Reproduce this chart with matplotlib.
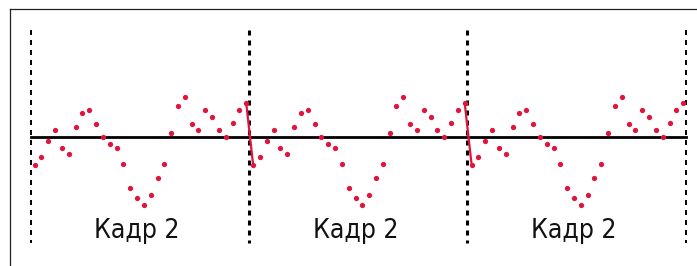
import numpy as np
import matplotlib
matplotlib.use("Agg")
import matplotlib.pyplot as plt
from matplotlib.lines import Line2D

# one frame of samples (amplitude), repeated in every frame
frame_values = [-0.69, -0.51, -0.09, 0.18, -0.27, -0.43, 0.24, 0.59,
                0.68, 0.33, -0.01, -0.18, -0.28, -0.68, -1.28, -1.53,
                -1.71, -1.44, -1.03, -0.68, 0.09, 0.77, 1.01, 0.33,
                0.17, 0.68, 0.50, 0.17, 0.01, 0.34, 0.68, 0.84]
n_frames = 3
frame_label = "Кадр 2"

plt.rcParams['lines.scale_dashes'] = False
plt.rcParams['font.family'] = ['DejaVu Sans']

W, H = 697, 266
fig = plt.figure(figsize=(W / 100, H / 100), dpi=100)
ax = fig.add_axes([0, 0, 1, 1])
ax.set_axis_off()

n = len(frame_values)
px = 6.828  # pixels per sample
x0 = 30.5   # pixel position of first frame boundary
ax.set_xlim(-x0 / px, (W - x0) / px)
ax.set_ylim(-(H - 137) / 40, 137 / 40)

red = '#e0143c'
for k in range(n_frames):
    xs = k * n + np.arange(n) + 0.6
    ax.plot(xs, frame_values, 'o', color=red, ms=3.8, mec='none', zorder=4)
    if k < n_frames - 1:
        # jump from the end of one frame to the start of the next
        ax.plot([xs[-1], xs[-1] + 1], [frame_values[-1], frame_values[0]],
                color=red, lw=1.6, zorder=3)
    ax.text(k * n + n / 2 - 0.4, -2.525, frame_label, ha='center',
            va='baseline', fontsize=19, color='#111111',
            fontstretch='condensed')

# zero line
ax.plot([0, n_frames * n], [0, 0], color='black', lw=2.0, zorder=2)

# frame boundaries
for k in range(n_frames + 1):
    inner = 0 < k < n_frames
    ax.plot([k * n, k * n], [2.675, -2.65], color='black',
            lw=2.2 if inner else 1.4, linestyle=(0, (3.6, 3.6)), zorder=1)

# outer frame lines
fig.add_artist(Line2D([10 / W, 1], [1 - 9 / H, 1 - 9 / H], color='#222222', lw=0.9))
fig.add_artist(Line2D([10 / W, 10 / W], [1 - 9 / H, 0], color='#222222', lw=0.9))

fig.savefig("out.png", dpi=100)
